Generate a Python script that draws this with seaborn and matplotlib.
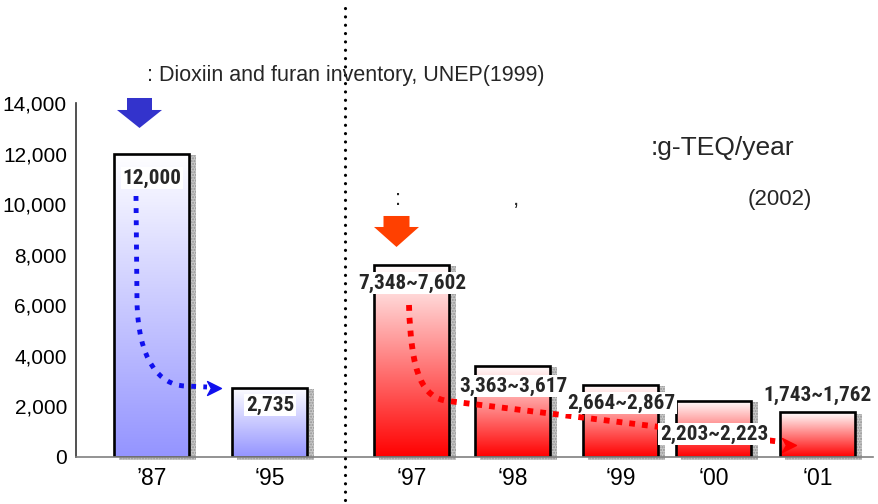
import numpy as np
import pandas as pd
import matplotlib
matplotlib.use("Agg")
import matplotlib.pyplot as plt
import seaborn as sns
from matplotlib.colors import LinearSegmentedColormap
from matplotlib.patches import Rectangle, FancyArrow, PathPatch
from matplotlib.path import Path

# ---- data: dioxin/furan emissions, g-TEQ/year ----
years = ["’87", "‘95", "‘97", "‘98", "‘99", "‘00", "‘01"]
emission_low = [12000, 2735, 7348, 3363, 2664, 2203, 1743]
emission_high = [12000, 2735, 7602, 3617, 2867, 2223, 1762]
source = ["UNEP", "UNEP", "national", "national", "national", "national", "national"]

# ---- layout ----
x_pos = [1.52, 2.70, 4.12, 5.13, 6.21, 7.14, 8.18]
label_y = [11034, 2057, 6882, 2808, 2136, 910, 2420]
bar_width = 0.75
bottom_colors = {"UNEP": "#9494ff", "national": "#ff0000"}

sns.set_style("white")
plt.rcParams["font.family"] = ["Liberation Sans", "DejaVu Sans"]

fig = plt.figure(figsize=(8.79, 5.04), dpi=100)
ax = fig.add_axes([76 / 879, 47 / 504, (873 - 76) / 879, 354 / 504])

df = pd.DataFrame({"pos": x_pos, "value": emission_high, "source": source})
sns.barplot(data=df, x="pos", y="value", hue="source", native_scale=True,
            dodge=False, errorbar=None, legend=False,
            palette=bottom_colors, ax=ax)

ax.set_xlim(0.76, 8.73)
ax.set_ylim(0, 14000)

# reshape bars, add shadow strips and vertical gradient fills
bars = sorted(ax.patches, key=lambda p: p.get_x() + p.get_width() / 2)
for p, src in zip(bars, source):
    cx = p.get_x() + p.get_width() / 2
    h = p.get_height()
    p.set_x(cx - bar_width / 2)
    p.set_width(bar_width)
    x0 = p.get_x()
    shadow = Rectangle((x0 + 0.05, -110), bar_width + 0.02, h + 60,
                       facecolor="#c8c8c8", edgecolor="#959595", hatch="......",
                       lw=0, zorder=1, clip_on=False)
    ax.add_patch(shadow)
    cmap = LinearSegmentedColormap.from_list("fade", ["white", bottom_colors[src]])
    grad = np.linspace(0, 1, 256).reshape(-1, 1)
    im = ax.imshow(grad, cmap=cmap, extent=[x0, x0 + bar_width, 0, h],
                   origin="upper", aspect="auto", zorder=1.6,
                   interpolation="bilinear")
    im.set_clip_path(p)
    p.set_facecolor("none")
    p.set_edgecolor("black")
    p.set_linewidth(1.9)
    p.set_zorder(2)

ax.set_xlim(0.76, 8.73)
ax.set_ylim(0, 14000)

# value labels
for x, lo, hi, y in zip(x_pos, emission_low, emission_high, label_y):
    txt = f"{hi:,}" if lo == hi else f"{lo:,}~{hi:,}"
    ax.text(x, y, txt, ha="center", va="center", fontsize=15.2, fontweight="bold",
            family=["Roboto Condensed", "DejaVu Sans"],
            bbox=dict(facecolor="white", edgecolor="none", pad=1.2), zorder=6)

# trend curves
blue_path = Path([(1.36, 10322), (1.37, 6170),
                  (1.38, 3797), (1.60, 2848), (1.85, 2808),
                  (2.07, 2768)],
                 [Path.MOVETO, Path.LINETO, Path.CURVE4, Path.CURVE4, Path.CURVE4,
                  Path.LINETO])
ax.add_patch(PathPatch(blue_path, facecolor="none", edgecolor="#1010ee", lw=3.5,
                       linestyle=(0, (1, 1.5)), capstyle="butt", zorder=4))
red_path = Path([(4.09, 6011), (4.11, 3243), (4.23, 2333), (4.48, 2215),
                 (7.82, 593)],
                [Path.MOVETO, Path.CURVE4, Path.CURVE4, Path.CURVE4, Path.LINETO])
ax.add_patch(PathPatch(red_path, facecolor="none", edgecolor="#ff0000", lw=4.2,
                       linestyle=(0, (1, 1.2)), capstyle="butt", zorder=4))

head = Path([(-1, 1), (1, 0), (-1, -1), (-0.45, 0), (-1, 1)],
            [Path.MOVETO, Path.LINETO, Path.LINETO, Path.LINETO, Path.CLOSEPOLY])
ax.plot([2.14], [2729], marker=head, ms=10, color="#1010ee", ls="none", zorder=4)
ax.plot([7.895], [455], marker=head, ms=10, color="#ff0000", ls="none", zorder=7)

# block arrows marking the reference years
ax.add_patch(FancyArrow(1.395, 14198, 0, -1186, width=0.25, head_width=0.45,
                        head_length=712, length_includes_head=True,
                        color="#3333cc", lw=0, clip_on=False, zorder=5))
ax.add_patch(FancyArrow(3.965, 9532, 0, -1226, width=0.26, head_width=0.45,
                        head_length=791, length_includes_head=True,
                        color="#ff4000", lw=0, clip_on=False, zorder=5))

# separator between the two inventories
ax.axvline(3.45, ymin=-0.121, ymax=1.277, color="black", lw=2.3,
           linestyle=(0, (0.01, 2.6)), dash_capstyle="round", clip_on=False, zorder=6)

# axes styling
sns.despine(ax=ax)
ax.spines["left"].set_color("#333333")
ax.spines["left"].set_linewidth(1.2)
ax.spines["bottom"].set_color("#808080")
ax.spines["bottom"].set_linewidth(1.2)
ax.set_yticks(range(0, 14001, 2000))
ax.set_yticklabels([f"{v:,}" for v in range(0, 14001, 2000)])
ax.set_yticks([0, 14000], minor=True)
ax.tick_params(axis="y", which="major", length=0, pad=6.5, labelsize=15, labelcolor="black")
ax.tick_params(axis="y", which="minor", direction="in", length=6, width=1.5, color="black")
ax.set_xticks(x_pos)
ax.set_xticklabels(years)
ax.set_xticks([2.09], minor=True)
ax.tick_params(axis="x", which="major", length=0, pad=7, labelsize=16.5, labelcolor="black")
ax.tick_params(axis="x", which="minor", direction="in", length=7, width=1, color="#555555")
ax.set_xlabel("")
ax.set_ylabel("")

# annotation texts
def fx(px):
    return px / 879

def fy(py):
    return 1 - py / 504

fig.text(fx(147), fy(75), ": Dioxiin and furan inventory, UNEP(1999)", fontsize=15.5,
         va="center", ha="left")
fig.text(fx(651), fy(148), ":g-TEQ/year", fontsize=19, va="center", ha="left")
fig.text(fx(395), fy(205), ":", fontsize=16, va="baseline", ha="left")
fig.text(fx(513), fy(205), ",", fontsize=16, va="baseline", ha="left")
fig.text(fx(748), fy(205), "(2002)", fontsize=16, va="baseline", ha="left")

fig.savefig("out.png", dpi=100, facecolor="white")
